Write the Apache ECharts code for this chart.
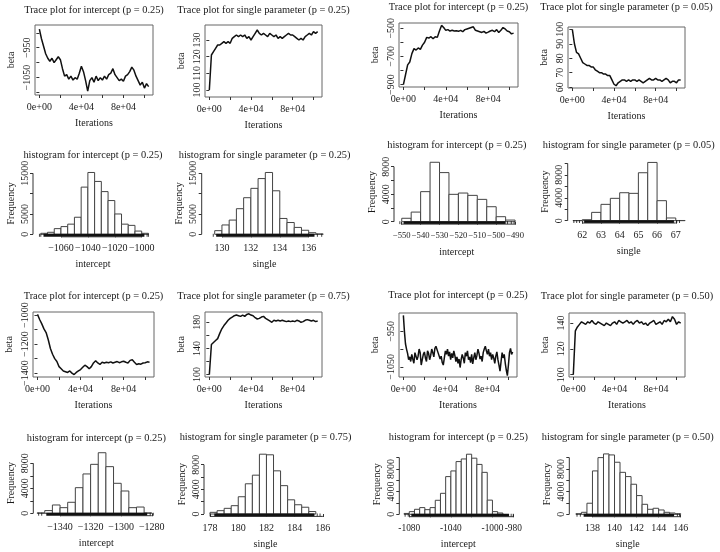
<!DOCTYPE html>
<html>
<head>
<meta charset="utf-8">
<title>Trace plots and histograms</title>
<script src="https://cdn.jsdelivr.net/npm/echarts@6/dist/echarts.min.js"></script>
<style>
html, body { margin: 0; padding: 0; background: #fff; }
#chart { width: 720px; height: 552px; }
</style>
</head>
<body>
<div id="chart"></div>
<script>
// ---- values ----
var iterMax = 104000;
var traceXTicks = [0, 20000, 40000, 60000, 80000, 100000];
var traceXLabels = [0, 40000, 80000];

// trace plots (values at evenly spaced iterations 0 .. iterMax)
var traceIntercept1 = [-888,-920,-945,-970,-985,-995,-985,-1000,-990,-980,-990,-1020,-1045,-1040,-1055,-1045,-1058,-1050,-1055,-1035,-1012,-1030,-1060,-1095,-1060,-1050,-1065,-1045,-1060,-1050,-1058,-1045,-1055,-1040,-1035,-1020,-1040,-1050,-1060,-1055,-1062,-1045,-1040,-1030,-1015,-1025,-1045,-1060,-1075,-1065,-1085,-1070,-1080];
var traceSingle1 = [100,121,123,125,127,127,128,129,128,129,128,131,132,133,132,133,132,133,131,132,130,132,134,136,134,133,134,133,132,134,133,132,133,131,132,131,132,133,134,133,133,132,131,130,131,130,132,133,134,133,135,134,135];
var traceIntercept2 = [-900,-830,-760,-740,-680,-645,-655,-640,-650,-620,-600,-565,-570,-560,-575,-560,-565,-520,-480,-495,-515,-510,-520,-515,-520,-518,-522,-515,-525,-510,-505,-500,-495,-490,-515,-520,-525,-530,-522,-535,-528,-520,-515,-525,-510,-530,-515,-495,-505,-520,-525,-540,-535];
var traceSingle2 = [100,90,84,83,80,77,76,75,75,74,74,72,71,70,70,69,69,68,68,65,62,61,63,64,65,65,64,65,64,65,65,64,65,64,63,64,65,66,65,65,66,65,65,64,65,66,65,63,64,64,63,65,65];
var traceIntercept3 = [-995,-1030,-1060,-1095,-1120,-1170,-1230,-1270,-1300,-1320,-1355,-1370,-1385,-1390,-1395,-1385,-1400,-1410,-1395,-1385,-1375,-1360,-1345,-1355,-1370,-1355,-1330,-1315,-1330,-1340,-1325,-1330,-1325,-1328,-1322,-1330,-1325,-1320,-1328,-1322,-1318,-1325,-1330,-1312,-1308,-1325,-1340,-1335,-1338,-1330,-1328,-1322,-1325];
var traceSingle3 = [100,146,149,152,155,163,170,175,179,183,186,188,190,191,190,189,191,189,192,193,191,190,187,185,186,188,189,186,184,182,180,183,182,183,182,183,182,181,182,181,182,181,183,182,180,181,183,184,183,182,183,181,182];
var traceIntercept4 = [-905,-950,-985,-1000,-1012,-1030,-1022,-1035,-1015,-1028,-1040,-1010,-1005,-1030,-1020,-1000,-1010,-1045,-1030,-1015,-1008,-1025,-1035,-1005,-1012,-1030,-1018,-1000,-1010,-1022,-998,-992,-988,-1010,-1005,-1028,-1020,-1038,-1045,-1025,-1005,-1015,-1000,-1020,-1008,-1030,-1012,-1025,-1005,-1018,-1035,-1022,-1040,-1028,-1052,-1030,-1015,-1025,-1040,-1010,-1020,-1005,-1030,-1022,-1038,-1015,-1042,-1025,-1010,-1030,-1018,-1000,-1012,-1028,-1020,-1035,-1010,-1000,-992,-1005,-1015,-1000,-1020,-1010,-1030,-1015,-1025,-1040,-1020,-1008,-1030,-1045,-1062,-1035,-1010,-1025,-1015,-1040,-1060,-1075,-1045,-1010,-998,-1015,-1008];
var traceSingle4 = [100,134,137,139,141,140,139,141,140,142,140,139,141,140,139,138,140,139,138,140,141,139,142,141,140,141,142,140,141,139,141,142,140,141,139,140,138,140,141,142,139,140,141,139,142,141,143,141,145,143,139,141,140];

// trace y ticks / labels
var yTicksT1 = [-1100, -1050, -1000, -950, -900], yLabelsT1 = [-1050, -950];
var yTicksT2 = [100, 110, 120, 130], yLabelsT2 = [100, 110, 120, 130];
var yTicksT3 = [-900, -800, -700, -600, -500], yLabelsT3 = [-900, -700, -500];
var yTicksT4 = [60, 70, 80, 90, 100], yLabelsT4 = [60, 70, 80, 90, 100];
var yTicksT5 = [-1400, -1300, -1200, -1100, -1000], yLabelsT5 = [-1400, -1200, -1000];
var yTicksT6 = [100, 120, 140, 160, 180], yLabelsT6 = [100, 140, 180];
var yTicksT7 = [-1050, -1000, -950], yLabelsT7 = [-1050, -950];
var yTicksT8 = [100, 120, 140], yLabelsT8 = [100, 120, 140];

// histograms: [first break, bin width] and counts per bin
var histIntercept1Bins = [-1075, 5];
var histIntercept1Counts = [250, 500, 1400, 1900, 2500, 4200, 11600, 15200, 13000, 10500, 8300, 5000, 2500, 2200, 800, 250];
var histSingle1Bins = [129.5, 0.5];
var histSingle1Counts = [900, 2300, 3500, 6300, 9000, 11300, 13700, 15200, 10700, 3900, 2900, 1700, 1000, 400, 100];
var histIntercept2Bins = [-550, 5];
var histIntercept2Counts = [500, 1400, 4370, 8640, 7140, 3980, 4170, 3830, 3250, 2180, 730, 240];
var histSingle2Bins = [61.5, 0.5];
var histSingle2Counts = [20, 170, 1450, 2850, 3900, 4880, 4770, 8370, 10170, 3490, 470, 30];
var histIntercept3Bins = [-1355, 5];
var histIntercept3Counts = [60, 430, 1330, 900, 1760, 4100, 6300, 7840, 9700, 7470, 4800, 3570, 900, 1000, 60];
var histSingle3Bins = [178, 0.5];
var histSingle3Counts = [270, 540, 920, 1350, 2800, 4900, 6300, 9700, 9600, 7000, 4600, 2300, 1500, 1100, 400];
var histIntercept4Bins = [-1085, 5];
var histIntercept4Counts = [150, 470, 880, 1180, 820, 1180, 2470, 3700, 6650, 7650, 9300, 9760, 10600, 9900, 8800, 7400, 2500, 470, 230];
var histSingle4Bins = [136.5, 0.5];
var histSingle4Counts = [100, 350, 1950, 7650, 10000, 10650, 10470, 9180, 7400, 6650, 5300, 3300, 1760, 880, 1060, 760, 350, 230, 100];

// rug: dense band [lo, hi] and a few isolated marks
var rugH1 = [-1073, -998], rugH1Marks = [-1076, -1075, -996, -995];
var rugH2 = [129.6, 136.4], rugH2Marks = [129.4, 136.6, 136.9];
var rugH3 = [-549, -495], rugH3Marks = [-551, -494, -492, -490.5];
var rugH4 = [62.1, 66.9], rugH4Marks = [61.55, 61.7, 61.85, 67.05, 67.2];
var rugH5 = [-1349, -1283], rugH5Marks = [-1354, -1352, -1281, -1279];
var rugH6 = [178.3, 185.4], rugH6Marks = [178.0, 185.6, 185.8];
var rugH7 = [-1078, -984], rugH7Marks = [-1084, -1081, -982, -980];
var rugH8 = [137.2, 145.4], rugH8Marks = [136.6, 136.9, 145.7, 145.9];

// histogram ticks / labels
var xTicksH1 = [-1060, -1040, -1020, -1000], xLabelsH1 = xTicksH1;
var xTicksH2 = [130, 132, 134, 136], xLabelsH2 = xTicksH2;
var xTicksH3 = [-550, -540, -530, -520, -510, -500, -490], xLabelsH3 = xTicksH3;
var xTicksH4 = [62, 63, 64, 65, 66, 67], xLabelsH4 = xTicksH4;
var xTicksH5 = [-1340, -1320, -1300, -1280], xLabelsH5 = xTicksH5;
var xTicksH6 = [178, 180, 182, 184, 186], xLabelsH6 = xTicksH6;
var xTicksH7 = [-1080, -1060, -1040, -1020, -1000, -980], xLabelsH7 = [-1080, -1040, -1000, -980];
var xTicksH8 = [138, 140, 142, 144, 146], xLabelsH8 = xTicksH8;
var yTicks15k = [0, 5000, 10000, 15000], yLabels15k = [0, 5000, 15000];
var yTicks8k = [0, 2000, 4000, 6000, 8000], yLabels8k = [0, 4000, 8000];
var yTicks10k = [0, 2000, 4000, 6000, 8000, 10000], yLabels10k = [0, 4000, 8000];

// ---- panel layout (pixels) ----
var tracePanels = [
  {title: 'Trace plot for intercept (p = 0.25)', values: traceIntercept1, yTicks: yTicksT1, yLabels: yLabelsT1, box: [35, 25, 153, 95], y: [-1108, -874], titleY: 10},
  {title: 'Trace plot for single parameter (p = 0.25)', values: traceSingle1, yTicks: yTicksT2, yLabels: yLabelsT2, box: [205, 25, 322, 97], y: [95.8, 139], titleY: 10},
  {title: 'Trace plot for intercept (p = 0.25)', values: traceIntercept2, yTicks: yTicksT3, yLabels: yLabelsT3, box: [399, 23, 518, 87], y: [-917, -463], titleY: 7},
  {title: 'Trace plot for single parameter (p = 0.05)', values: traceSingle2, yTicks: yTicksT4, yLabels: yLabelsT4, box: [568, 27, 685, 88], y: [59.4, 101.6], titleY: 7},
  {title: 'Trace plot for intercept (p = 0.25)', values: traceIntercept3, yTicks: yTicksT5, yLabels: yLabelsT5, box: [33, 312, 154, 377], y: [-1426.6, -978.4], titleY: 296.5},
  {title: 'Trace plot for single parameter (p = 0.75)', values: traceSingle3, yTicks: yTicksT6, yLabels: yLabelsT6, box: [205, 312, 322, 377], y: [96.3, 195.7], titleY: 296.5},
  {title: 'Trace plot for intercept (p = 0.25)', values: traceIntercept4, yTicks: yTicksT7, yLabels: yLabelsT7, box: [399, 313, 517, 377], y: [-1078.7, -898.3], titleY: 295},
  {title: 'Trace plot for single parameter (p = 0.50)', values: traceSingle4, yTicks: yTicksT8, yLabels: yLabelsT8, box: [569, 313, 685, 377], y: [98.2, 147.8], titleY: 296.5}
];

var histPanels = [
  {title: 'histogram for intercept (p = 0.25)', name: 'intercept', bins: histIntercept1Bins, counts: histIntercept1Counts, rug: rugH1, rugMarks: rugH1Marks,
   xTicks: xTicksH1, xLabels: xLabelsH1, yTicks: yTicks15k, yLabels: yLabels15k, box: [33, 170, 153, 236.8], x: [-1080.8, -991.6], y: [-608, 15808], titleY: 155},
  {title: 'histogram for single parameter (p = 0.25)', name: 'single', bins: histSingle1Bins, counts: histSingle1Counts, rug: rugH2, rugMarks: rugH2Marks,
   xTicks: xTicksH2, xLabels: xLabelsH2, yTicks: yTicks15k, yLabels: yLabels15k, box: [201.7, 170, 327.5, 236.8], x: [128.6, 137.3], y: [-608, 15808], titleY: 155},
  {title: 'histogram for intercept (p = 0.25)', name: 'intercept', bins: histIntercept2Bins, counts: histIntercept2Counts, rug: rugH3, rugMarks: rugH3Marks,
   xTicks: xTicksH3, xLabels: xLabelsH3, yTicks: yTicks8k, yLabels: yLabels8k, box: [394, 159.9, 519.6, 224.1], x: [-554.1, -487.6], y: [-346, 8986], titleY: 145, xFont: 8.6},
  {title: 'histogram for single parameter (p = 0.05)', name: 'single', bins: histSingle2Bins, counts: histSingle2Counts, rug: rugH4, rugMarks: rugH4Marks,
   xTicks: xTicksH4, xLabels: xLabelsH4, yTicks: yTicks10k, yLabels: yLabels10k, box: [567.7, 160.1, 689.8, 223], x: [61.22, 67.75], y: [-407, 10577], titleY: 145},
  {title: 'histogram for intercept (p = 0.25)', name: 'intercept', bins: histIntercept3Bins, counts: histIntercept3Counts, rug: rugH5, rugMarks: rugH5Marks,
   xTicks: xTicksH5, xLabels: xLabelsH5, yTicks: yTicks8k, yLabels: yLabels8k, box: [33.3, 450.3, 159.4, 515.7], x: [-1357.5, -1275], y: [-388, 10088], titleY: 438},
  {title: 'histogram for single parameter (p = 0.75)', name: 'single', bins: histSingle3Bins, counts: histSingle3Counts, rug: rugH6, rugMarks: rugH6Marks,
   xTicks: xTicksH6, xLabels: xLabelsH6, yTicks: yTicks8k, yLabels: yLabels8k, box: [204, 451.8, 327.1, 516.4], x: [177.57, 186.3], y: [-388, 10088], titleY: 437},
  {title: 'histogram for intercept (p = 0.25)', name: 'intercept', bins: histIntercept4Bins, counts: histIntercept4Counts, rug: rugH7, rugMarks: rugH7Marks,
   xTicks: xTicksH7, xLabels: xLabelsH7, yTicks: yTicks10k, yLabels: yLabels10k, box: [399.3, 451.8, 517.4, 516.7], x: [-1089.6, -976], y: [-424, 11024], titleY: 437, xFont: 9.4, hyphen: true},
  {title: 'histogram for single parameter (p = 0.50)', name: 'single', bins: histSingle4Bins, counts: histSingle4Counts, rug: rugH8, rugMarks: rugH8Marks,
   xTicks: xTicksH8, xLabels: xLabelsH8, yTicks: yTicks10k, yLabels: yLabels10k, box: [569.3, 451.5, 686.2, 516.7], x: [135.9, 146.5], y: [-426, 11076], titleY: 437}
];

// ---- helpers ----
var FONT = '"Liberation Serif", "Times New Roman", serif';
var INK = '#1a1a1a';

function fmtNum(v) {
  return v < 0 ? '\u2212' + (-v) : String(v);
}
function fmtHyphen(v) {
  return String(v);
}
// R style scientific labels: 4e+04
function fmtSci(v) {
  if (v === 0) return '0e+00';
  var e = Math.floor(Math.log10(Math.abs(v)) + 1e-9);
  var m = Math.round(v / Math.pow(10, e));
  return m + 'e+' + (e < 10 ? '0' : '') + e;
}

function makeGrid(box, showBox) {
  return {
    left: box[0], top: box[1], width: box[2] - box[0], height: box[3] - box[1],
    show: showBox, borderColor: '#666', borderWidth: 1, backgroundColor: 'transparent',
    containLabel: false, outerBoundsMode: 'none'
  };
}

function makeXAxis(i, range, ticks, labels, fmt, name, fontSize) {
  return {
    type: 'value', gridIndex: i, min: range[0], max: range[1],
    axisLine: {show: false}, splitLine: {show: false},
    axisTick: {show: true, length: 3, customValues: ticks, lineStyle: {color: '#333', width: 1}},
    axisLabel: {customValues: labels, formatter: fmt, margin: 7, hideOverlap: false,
      showMinLabel: true, showMaxLabel: true,
      fontFamily: FONT, fontSize: fontSize || 10, color: INK},
    name: name, nameLocation: 'middle', nameGap: 23, nameMoveOverlap: false,
    nameTextStyle: {fontFamily: FONT, fontSize: 10, color: INK}
  };
}

function makeYAxis(i, range, ticks, labels, name, gap) {
  return {
    type: 'value', gridIndex: i, min: range[0], max: range[1],
    axisLine: {show: false}, splitLine: {show: false},
    axisTick: {show: true, length: 3, customValues: ticks, lineStyle: {color: '#333', width: 1}},
    axisLabel: {customValues: labels, formatter: fmtNum, rotate: 90, margin: 3, hideOverlap: false,
      showMinLabel: true, showMaxLabel: true,
      fontFamily: FONT, fontSize: 10, color: INK},
    name: name, nameLocation: 'middle', nameRotate: 90, nameGap: gap, nameMoveOverlap: false,
    nameTextStyle: {fontFamily: FONT, fontSize: 10, color: INK}
  };
}

function titleText(cx, cy, text) {
  return {
    type: 'text', x: cx, y: cy, silent: true,
    style: {text: text, fontFamily: FONT, fontSize: 10.4, fill: INK,
      align: 'center', verticalAlign: 'middle', textAlign: 'center', textVerticalAlign: 'middle'}
  };
}

function renderBar(params, api) {
  var a = api.coord([api.value(0), api.value(2)]);
  var b = api.coord([api.value(1), 0]);
  return {
    type: 'rect',
    shape: {x: a[0], y: a[1], width: b[0] - a[0], height: b[1] - a[1]},
    style: {fill: '#fff', stroke: '#444', lineWidth: 1}
  };
}

function makeRug(y0, y1) {
  return function (params, api) {
    var a = api.coord([api.value(0), y0]);
    var b = api.coord([api.value(1), y1]);
    if (b[0] - a[0] < 0.5) {
      return {type: 'line', shape: {x1: a[0], y1: a[1], x2: a[0], y2: b[1]}, style: {stroke: '#111', lineWidth: 0.8}};
    }
    return {type: 'rect', shape: {x: a[0], y: b[1], width: b[0] - a[0], height: a[1] - b[1]}, style: {fill: '#111'}};
  };
}

function axisLineSeries(i, pts) {
  return {
    type: 'line', xAxisIndex: i, yAxisIndex: i, data: pts, symbol: 'none', silent: true, clip: false,
    lineStyle: {color: '#333', width: 1}, z: 5
  };
}

// ---- build options ----
var grids = [], xAxes = [], yAxes = [], series = [], graphics = [];

tracePanels.forEach(function (p) {
  var i = grids.length, b = p.box;
  grids.push(makeGrid(b, true));
  xAxes.push(makeXAxis(i, [-4160, 108160], traceXTicks, traceXLabels, fmtSci, 'Iterations'));
  yAxes.push(makeYAxis(i, p.y, p.yTicks, p.yLabels, 'beta', 19));
  var step = iterMax / (p.values.length - 1);
  series.push({
    type: 'line', xAxisIndex: i, yAxisIndex: i, symbol: 'none', silent: true,
    data: p.values.map(function (v, k) { return [k * step, v]; }),
    lineStyle: {color: '#111', width: 1.5}
  });
  graphics.push(titleText((b[0] + b[2]) / 2, p.titleY, p.title));
});

histPanels.forEach(function (p) {
  var i = grids.length, b = p.box;
  grids.push(makeGrid(b, false));
  xAxes.push(makeXAxis(i, p.x, p.xTicks, p.xLabels, p.hyphen ? fmtHyphen : fmtNum, p.name, p.xFont));
  yAxes.push(makeYAxis(i, p.y, p.yTicks, p.yLabels, 'Frequency', 17));
  var bars = p.counts.map(function (c, k) {
    return [p.bins[0] + k * p.bins[1], p.bins[0] + (k + 1) * p.bins[1], c];
  });
  series.push({
    type: 'custom', xAxisIndex: i, yAxisIndex: i, data: bars, silent: true,
    encode: {x: [0, 1], y: 2}, renderItem: renderBar
  });
  var rugData = [p.rug].concat(p.rugMarks.map(function (v) { return [v, v]; }));
  var rugTop = p.y[0] + 0.045 * (p.y[1] - p.y[0]);
  series.push({
    type: 'custom', xAxisIndex: i, yAxisIndex: i, data: rugData, silent: true, z: 4,
    encode: {x: [0, 1]}, renderItem: makeRug(p.y[0], rugTop)
  });
  // R draws the axis line only between the outer ticks
  series.push(axisLineSeries(i, [[p.xTicks[0], p.y[0]], [p.xTicks[p.xTicks.length - 1], p.y[0]]]));
  series.push(axisLineSeries(i, [[p.x[0], p.yTicks[0]], [p.x[0], p.yTicks[p.yTicks.length - 1]]]));
  graphics.push(titleText((b[0] + b[2]) / 2, p.titleY, p.title));
});

var chart = echarts.init(document.getElementById('chart'), null, {renderer: 'canvas'});
chart.setOption({
  animation: false,
  backgroundColor: '#fff',
  grid: grids,
  xAxis: xAxes,
  yAxis: yAxes,
  series: series,
  graphic: graphics
});
</script>
</body>
</html>
